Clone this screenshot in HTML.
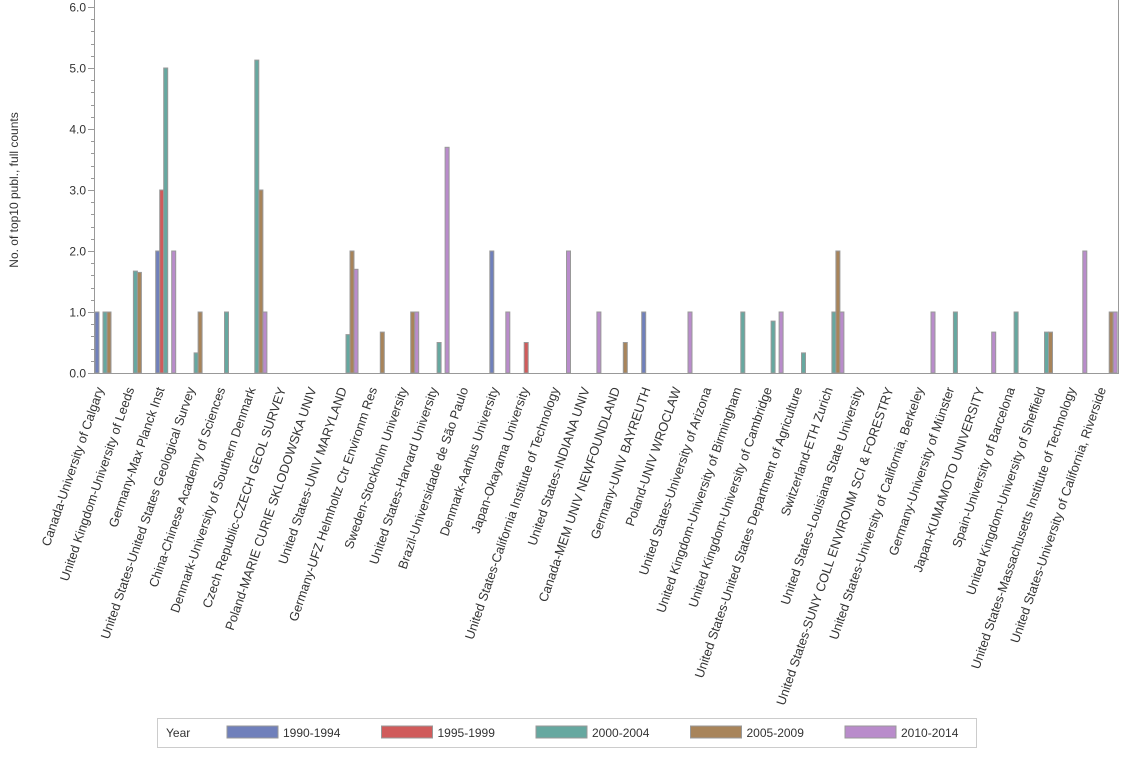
<!DOCTYPE html>
<html><head><meta charset="utf-8"><style>
html,body{margin:0;padding:0;background:#fff;}
svg text{font-family:"Liberation Sans",Arial,sans-serif;}
</style></head><body>
<svg width="1134" height="756" viewBox="0 0 1134 756" xmlns="http://www.w3.org/2000/svg">
<rect x="0" y="0" width="1134" height="756" fill="#fff"/>
<g id="yaxis" font-size="12" fill="#333" text-anchor="end"></g>
<text x="18" y="190" font-size="12" fill="#333" text-anchor="middle" transform="rotate(-90 18 190)">No. of top10 publ., full counts</text>
<g id="bars" stroke="#999" stroke-width="1"></g>
<line x1="95" y1="373.5" x2="1118" y2="373.5" stroke="#999"/>
<line x1="94.5" y1="0" x2="94.5" y2="374" stroke="#999"/>
<line x1="1118.5" y1="0" x2="1118.5" y2="374" stroke="#999"/>
<g id="labels" font-size="12.8" fill="#333" text-anchor="end"></g>
<rect x="157.5" y="718.5" width="819" height="29" fill="#fff" stroke="#ccc"/>
<text x="166" y="737" font-size="12" fill="#333">Year</text>
<g id="legend" font-size="12" fill="#333"></g>
</svg>
<script>
var NS="http://www.w3.org/2000/svg";
function el(t,a,p,txt){var e=document.createElementNS(NS,t);for(var k in a)e.setAttribute(k,a[k]);if(txt!==undefined)e.textContent=txt;document.getElementById(p).appendChild(e);return e;}
var y0=373,py=61;
for(var v=0;v<=6.001;v+=0.2){var y=Math.round(y0-v*py)+0.5;var maj=Math.abs(v-Math.round(v))<0.01;
el("line",{x1:maj?88:91,y1:y,x2:95,y2:y,stroke:"#999"},"yaxis");
if(maj)el("text",{x:86,y:y+4},"yaxis",Math.round(v).toFixed(1));}
var cols=["#7080bb","#d05b5b","#66a8a0","#a8845a","#b98ccb"];
var data={0:[1,0,1,1,0],1:[0,0,1.67,1.65,0],2:[2,3,5,0,2],3:[0,0,0.33,1,0],4:[0,0,1,0,0],5:[0,0,5.13,3,1],8:[0,0,0.63,2,1.7],9:[0,0,0,0.67,0],10:[0,0,0,1,1],11:[0,0,0.5,0,3.7],13:[2,0,0,0,1],14:[0,0.5,0,0,0],15:[0,0,0,0,2],16:[0,0,0,0,1],17:[0,0,0,0.5,0],18:[1,0,0,0,0],19:[0,0,0,0,1],21:[0,0,1,0,0],22:[0,0,0.85,0,1],23:[0,0,0.33,0,0],24:[0,0,1,2,1],27:[0,0,0,0,1],28:[0,0,1,0,0],29:[0,0,0,0,0.67],30:[0,0,1,0,0],31:[0,0,0.67,0.67,0],32:[0,0,0,0,2],33:[0,0,0,1,1]};
var step=30.37;
for(var i in data){var s=95+i*step;data[i].forEach(function(v,k){if(v>0){var h=v*py;el("rect",{x:(s+k*4).toFixed(1),y:(y0-h).toFixed(1),width:4,height:h.toFixed(1),fill:cols[k]},"bars");}});}
var names=["Canada-University of Calgary","United Kingdom-University of Leeds","Germany-Max Planck Inst","United States-United States Geological Survey","China-Chinese Academy of Sciences","Denmark-University of Southern Denmark","Czech Republic-CZECH GEOL SURVEY","Poland-MARIE CURIE SKLODOWSKA UNIV","United States-UNIV MARYLAND","Germany-UFZ Helmholtz Ctr Environm Res","Sweden-Stockholm University","United States-Harvard University","Brazil-Universidade de São Paulo","Denmark-Aarhus University","Japan-Okayama University","United States-California Institute of Technology","United States-INDIANA UNIV","Canada-MEM UNIV NEWFOUNDLAND","Germany-UNIV BAYREUTH","Poland-UNIV WROCLAW","United States-University of Arizona","United Kingdom-University of Birmingham","United Kingdom-University of Cambridge","United States-United States Department of Agriculture","Switzerland-ETH Zurich","United States-Louisiana State University","United States-SUNY COLL ENVIRONM SCI & FORESTRY","United States-University of California, Berkeley","Germany-University of Münster","Japan-KUMAMOTO UNIVERSITY","Spain-University of Barcelona","United Kingdom-University of Sheffield","United States-Massachusetts Institute of Technology","United States-University of California, Riverside"];
names.forEach(function(n,i){var x=95+i*step+9,y=389;el("text",{x:x.toFixed(1),y:y,transform:"rotate(-71 "+x.toFixed(1)+" "+y+")"},"labels",n);});
var lg=["1990-1994","1995-1999","2000-2004","2005-2009","2010-2014"];
lg.forEach(function(n,k){var x=227+k*154.5;el("rect",{x:x,y:726,width:51,height:12,fill:cols[k],stroke:"#999"},"legend");el("text",{x:x+56,y:737},"legend",n);});
</script>
</body></html>
